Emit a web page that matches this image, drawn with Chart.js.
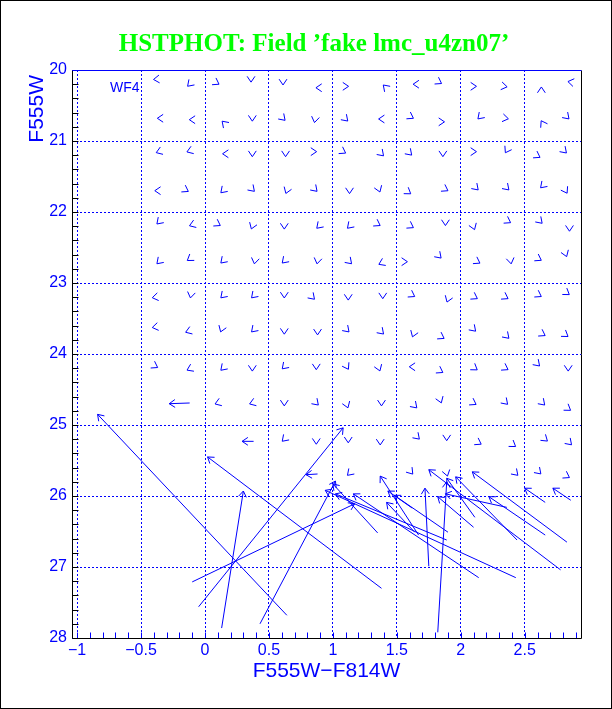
<!DOCTYPE html>
<html>
<head>
<meta charset="utf-8">
<title>HSTPHOT fake star field</title>
<script src="https://cdn.jsdelivr.net/npm/chart.js@4.4.0/dist/chart.umd.min.js"></script>
<style>
    html, body { margin: 0; padding: 0; background: #ffffff; }
    canvas { display: block; }
</style>
</head>
<body>
<canvas id="fieldChart" width="612" height="709"></canvas>
<script>
/* HSTPHOT artificial star test — input vs recovered photometry */

const BLUE = "#0000ff";
const HEAD_LEN = 7;          // arrowhead leg length, px
const HEAD_HALF = 34;        // arrowhead half angle, deg

const xTicks = [-1, -0.5, 0, 0.5, 1, 1.5, 2, 2.5];
const yTicks = [20, 21, 22, 23, 24, 25, 26, 27, 28];

// well recovered stars: only the arrowhead shows. direction on screen, deg (0 = right, 90 = down)
const starCol = [
    -0.38, -0.12, 0.09, 0.36, 0.61, 0.89, 1.10, 1.41, 1.65, 1.83, 2.10, 2.34, 2.63, 2.86,
    -0.35, -0.10, 0.15, 0.37, 0.61, 0.86, 1.10, 1.38, 1.61, 1.85, 2.15, 2.35, 2.64, 2.83,
    -0.36, -0.12, 0.16, 0.37, 0.63, 0.85, 1.08, 1.38, 1.60, 1.86, 2.10, 2.36, 2.60, 2.81,
    -0.37, -0.15, 0.14, 0.37, 0.64, 0.86, 1.13, 1.36, 1.59, 1.88, 2.12, 2.36, 2.64, 2.82,
    -0.36, -0.10, 0.10, 0.37, 0.62, 0.89, 1.13, 1.35, 1.61, 1.88, 2.10, 2.37, 2.62, 2.85,
    -0.36, -0.12, 0.14, 0.39, 0.62, 0.88, 1.13, 1.38, 1.56, 1.83, 2.13, 2.39, 2.61, 2.82,
    -0.39, -0.11, 0.14, 0.38, 0.62, 0.84, 1.12, 1.39, 1.62, 1.90, 2.11, 2.35, 2.61, 2.83,
    -0.39, -0.13, 0.13, 0.38, 0.62, 0.88, 1.11, 1.38, 1.63, 1.85, 2.10, 2.36, 2.64, 2.82,
    -0.39, -0.12, 0.14, 0.37, 0.62, 0.87, 1.11, 1.36, 1.62, 1.84, 2.11, 2.35, 2.60, 2.84,
    0.10, 0.37, 0.62, 0.87, 1.11, 1.38, 1.64, 1.84, 2.10, 2.35, 2.64, 2.84,
    0.62, 0.87, 1.12, 1.37, 1.66, 1.89, 2.14, 2.41, 2.66, 2.85,
    1.13, 1.61, 1.89, 2.43, 2.61, 2.83
];
const starMag = [
    20.13, 20.20, 20.18, 20.13, 20.17, 20.25, 20.23, 20.24, 20.20, 20.17, 20.23, 20.23, 20.28, 20.17,
    20.68, 20.70, 20.75, 20.68, 20.68, 20.70, 20.69, 20.69, 20.66, 20.73, 20.66, 20.68, 20.75, 20.66,
    21.15, 21.14, 21.18, 21.18, 21.18, 21.15, 21.15, 21.18, 21.17, 21.18, 21.15, 21.13, 21.21, 21.14,
    21.70, 21.69, 21.70, 21.68, 21.70, 21.68, 21.70, 21.68, 21.72, 21.68, 21.66, 21.66, 21.63, 21.70,
    22.14, 22.18, 22.17, 22.20, 22.20, 22.20, 22.20, 22.17, 22.20, 22.15, 22.21, 22.13, 22.13, 22.23,
    22.70, 22.66, 22.69, 22.69, 22.69, 22.69, 22.70, 22.72, 22.70, 22.62, 22.70, 22.69, 22.66, 22.59,
    23.20, 23.17, 23.18, 23.18, 23.17, 23.20, 23.20, 23.18, 23.17, 23.23, 23.20, 23.20, 23.17, 23.14,
    23.62, 23.68, 23.65, 23.66, 23.68, 23.69, 23.66, 23.69, 23.72, 23.76, 23.65, 23.75, 23.72, 23.73,
    24.17, 24.21, 24.20, 24.20, 24.18, 24.18, 24.18, 24.20, 24.18, 24.24, 24.20, 24.20, 24.14, 24.20,
    24.69, 24.69, 24.69, 24.69, 24.72, 24.69, 24.73, 24.65, 24.69, 24.68, 24.69, 24.77,
    25.20, 25.23, 25.21, 25.24, 25.17, 25.18, 25.25, 25.28, 25.20, 25.25,
    25.68, 25.66, 25.68, 25.68, 25.66, 25.72
];
const starDir = [
    175, 135, 30, 90, 90, 180, 0, 225, 180, 30, 0, 10, 270, 190,
    180, 180, 225, 90, 45, 100, 45, 180, 30, 0, 135, 10, 240, 45,
    160, 160, 180, 90, 90, 0, 30, 45, 45, 90, 0, 120, 30, 45,
    180, 30, 135, 45, 110, 45, 90, 70, 35, 30, 45, 45, 135, 60,
    135, 160, 30, 110, 90, 135, 135, 30, 30, 90, 70, 30, 45, 90,
    135, 145, 135, 100, 135, 100, 45, 155, 0, 45, 30, 80, 30, 70,
    170, 100, 135, 135, 90, 45, 90, 90, 30, 110, 30, 30, 30, 35,
    170, 160, 110, 135, 90, 90, 45, 45, 110, 30, 45, 45, 30, 35,
    30, 155, 135, 90, 135, 90, 60, 70, 180, 30, 35, 30, 45, 90,
    160, 160, 90, 45, 70, 90, 45, 70, 30, 45, 45, 35,
    135, 90, 90, 90, 45, 90, 30, 35, 40, 45,
    135, 50, 75, 45, 45, 30
];

// badly measured stars: recovered position (tail) to input position (head)
const tailCol = [0.64, 1.38, -0.10, -0.05, 0.13, 0.43, 1.35, 2.43, 2.14, 1.67, 1.89, 1.62, 1.90, 1.75,
    1.82, 2.78, 2.83, 2.66, 2.44, 2.11, 2.10, 2.36, 2.66, 2.86, 1.64, -0.12, 0.38, 0.88];
const tailMag = [27.68, 27.30, 27.21, 27.56, 27.86, 27.80, 26.52, 27.15, 27.15, 26.55, 26.62, 26.17, 26.51, 26.99,
    27.92, 27.04, 26.65, 26.55, 26.62, 26.30, 26.44, 26.16, 26.09, 26.06, 26.51, 24.69, 25.23, 25.69];
const headCol = [-0.84, 0.02, 1.17, 1.08, 0.30, 1.02, 1.00, 0.94, 1.16, 1.37, 1.02, 1.43, 1.48, 1.72,
    1.89, 1.75, 2.09, 2.22, 1.96, 1.89, 1.82, 1.88, 2.50, 2.72, 1.42, -0.28, 0.29, 0.79];
const headMag = [24.85, 25.45, 26.11, 25.04, 25.93, 25.79, 25.83, 25.92, 25.97, 25.72, 25.97, 25.93, 25.99, 25.89,
    25.80, 25.63, 25.66, 26.01, 25.73, 25.75, 26.01, 25.97, 25.89, 25.89, 26.09, 24.70, 25.23, 25.70];

function fmtTick(v) {
    return v < 0 ? "\u2212" + Math.abs(v) : String(v);
}

function drawHead(ctx, tx, ty, ang) {
    const h = HEAD_HALF * Math.PI / 180;
    ctx.beginPath();
    ctx.moveTo(tx - HEAD_LEN * Math.cos(ang - h), ty - HEAD_LEN * Math.sin(ang - h));
    ctx.lineTo(tx, ty);
    ctx.lineTo(tx - HEAD_LEN * Math.cos(ang + h), ty - HEAD_LEN * Math.sin(ang + h));
    ctx.stroke();
}

const arrowPlugin = {
    id: "arrows",
    afterDatasetsDraw(chart) {
        const { ctx, chartArea: a, scales: { x, y } } = chart;
        ctx.save();
        ctx.beginPath();
        ctx.rect(a.left, a.top, a.width, a.height);
        ctx.clip();
        ctx.strokeStyle = BLUE;
        ctx.lineWidth = 1;

        for (let i = 0; i < tailCol.length; i++) {
            const x0 = x.getPixelForValue(tailCol[i]), y0 = y.getPixelForValue(tailMag[i]);
            const x1 = x.getPixelForValue(headCol[i]), y1 = y.getPixelForValue(headMag[i]);
            ctx.beginPath();
            ctx.moveTo(x0, y0);
            ctx.lineTo(x1, y1);
            ctx.stroke();
            drawHead(ctx, x1, y1, Math.atan2(y1 - y0, x1 - x0));
        }

        // short vectors: head centred on the star
        const shift = HEAD_LEN * Math.cos(HEAD_HALF * Math.PI / 180) / 2;
        for (let i = 0; i < starCol.length; i++) {
            const ang = starDir[i] * Math.PI / 180;
            const px = x.getPixelForValue(starCol[i]) + shift * Math.cos(ang);
            const py = y.getPixelForValue(starMag[i]) + shift * Math.sin(ang);
            drawHead(ctx, px, py, ang);
        }
        ctx.restore();
    }
};

const framePlugin = {
    id: "frame",
    beforeDraw(chart) {
        const { ctx, width, height } = chart;
        ctx.save();
        ctx.fillStyle = "#ffffff";
        ctx.fillRect(0, 0, width, height);
        ctx.restore();
    },
    afterDraw(chart) {
        const { ctx, width, height, chartArea: a, scales: { x, y } } = chart;
        const L = Math.round(a.left) + 0.5, R = Math.round(a.right) + 0.5;
        const T = Math.round(a.top) + 0.5, B = Math.round(a.bottom) + 0.5;
        ctx.save();
        ctx.lineWidth = 1;

        // x minor ticks every 0.1, pointing inward
        ctx.strokeStyle = BLUE;
        ctx.beginPath();
        for (let k = -10; k <= 29; k++) {
            const px = Math.round(x.getPixelForValue(k / 10)) + 0.5;
            ctx.moveTo(px, B);
            ctx.lineTo(px, B - 6);
        }
        ctx.stroke();

        // y minor ticks every 0.2
        ctx.strokeStyle = "#000000";
        ctx.beginPath();
        for (let k = 101; k < 140; k++) {
            const py = Math.round(y.getPixelForValue(k / 5)) + 0.5;
            ctx.moveTo(L, py);
            ctx.lineTo(L + 6, py);
        }
        ctx.stroke();

        ctx.beginPath();
        ctx.moveTo(L, T);
        ctx.lineTo(L, B);
        ctx.lineTo(R, B);
        ctx.lineTo(R, T);
        ctx.stroke();

        ctx.strokeStyle = BLUE;
        ctx.beginPath();
        ctx.moveTo(L, T);
        ctx.lineTo(R, T);
        ctx.stroke();

        ctx.fillStyle = BLUE;
        ctx.font = "14px 'Liberation Sans'";
        ctx.textBaseline = "middle";
        ctx.fillText("WF4", a.left + 38, y.getPixelForValue(20.25));

        // y axis title sits at the top of the axis, reading upward
        ctx.font = "21px 'Liberation Sans'";
        ctx.translate(37, a.top + 5);
        ctx.rotate(-Math.PI / 2);
        ctx.textAlign = "right";
        ctx.fillText("F555W", 0, 0);
        ctx.setTransform(1, 0, 0, 1, 0, 0);

        ctx.strokeStyle = "#000000";
        ctx.strokeRect(0.5, 0.5, width - 1, height - 1);
        ctx.restore();
    }
};

const tickFont = { family: "'Liberation Sans'", size: 16 };
const titleFont = { family: "'Liberation Sans'", size: 21 };

new Chart(document.getElementById("fieldChart"), {
    type: "scatter",
    data: {
        datasets: [{
            label: "stars",
            data: starCol.map((c, i) => ({ x: c, y: starMag[i] })),
            pointRadius: 0
        }]
    },
    options: {
        responsive: false,
        animation: false,
        devicePixelRatio: 1,
        layout: { padding: { left: 16, right: 0, top: 0, bottom: 0 } },
        plugins: {
            legend: { display: false },
            tooltip: { enabled: false },
            title: {
                display: true,
                text: "HSTPHOT: Field \u2019fake lmc_u4zn07\u2019",
                color: "#00ff00",
                font: { family: "'Liberation Serif'", size: 25, weight: "bold" },
                padding: { top: 30, bottom: 10 }
            }
        },
        scales: {
            x: {
                type: "linear",
                min: -1.04,
                max: 2.94,
                afterBuildTicks: s => { s.ticks = xTicks.map(v => ({ value: v })); },
                afterFit: s => { s.height = 71; },
                ticks: { color: BLUE, font: tickFont, padding: 3, callback: fmtTick, maxRotation: 0, autoSkip: false },
                grid: { color: BLUE, lineWidth: 1, drawTicks: false },
                border: { display: false, dash: [2, 2] },
                title: { display: true, text: "F555W\u2212F814W", color: BLUE, font: titleFont, padding: { top: 0, bottom: 25 } }
            },
            y: {
                type: "linear",
                reverse: true,
                min: 20,
                max: 28,
                afterBuildTicks: s => { s.ticks = yTicks.map(v => ({ value: v })); },
                afterFit: s => { s.width = 56; },
                ticks: { color: BLUE, font: tickFont, padding: 5, callback: fmtTick, autoSkip: false },
                grid: { color: BLUE, lineWidth: 1, drawTicks: false },
                border: { display: false, dash: [2, 2] }
            },
            spacer: {
                type: "linear",
                position: "right",
                afterFit: s => { s.width = 31; },
                ticks: { display: false },
                grid: { display: false },
                border: { display: false }
            }
        }
    },
    plugins: [framePlugin, arrowPlugin]
});
</script>
</body>
</html>
